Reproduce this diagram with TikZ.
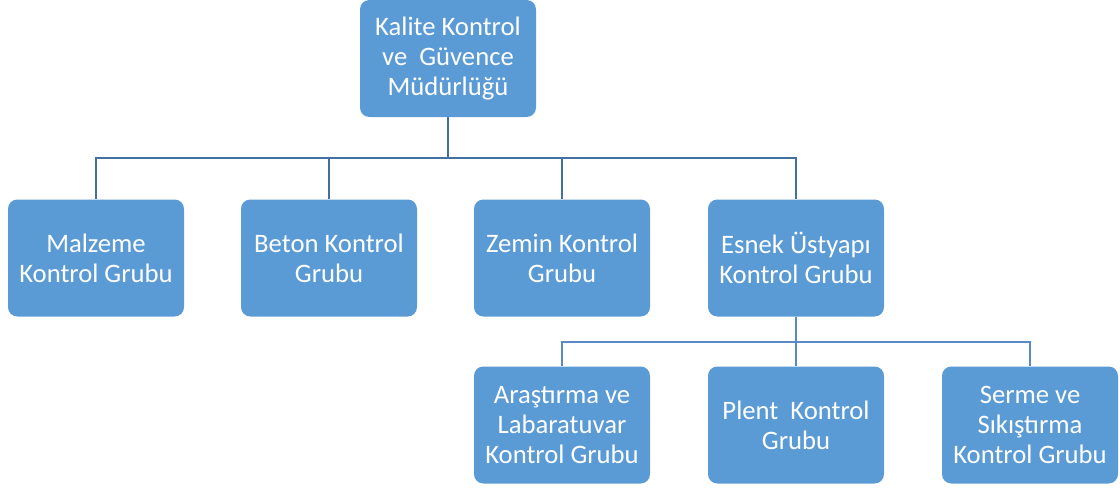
\documentclass[tikz,border=0pt]{standalone}
\usepackage{fontspec}
\setmainfont{Carlito}
\definecolor{boxblue}{HTML}{5B9BD5}
\definecolor{linkdark}{HTML}{41719C}
\definecolor{linklight}{HTML}{5A8AC6}
\tikzset{
  unit/.style={rectangle, rounded corners=7pt, fill=boxblue, text=white,
    minimum width=132pt, minimum height=87.75pt, align=center,
    font=\fontsize{20}{22.5}\selectfont},
  toplink/.style={draw=linkdark, line width=2.2pt},
  sublink/.style={draw=linklight, line width=2.2pt}
}
\begin{document}
\begin{tikzpicture}[x=0.75pt,y=-0.75pt]
    \useasboundingbox (0,0) rectangle (1120,490);
    \node (kk) at (448,58.5) [unit] {Kalite Kontrol\\ve\ \ Güvence\\Müdürlüğü};
    \node (mk) at (96,258) [unit] {Malzeme\\Kontrol Grubu};
    \node (bk) at (329,258) [unit] {Beton Kontrol\\Grubu};
    \node (zk) at (562,258) [unit] {Zemin Kontrol\\Grubu};
    \node (es) at (796,258) [unit] {Esnek Üstyapı\\Kontrol Grubu};
    \node (al) at (562,425) [unit] {Araştırma ve\\Labaratuvar\\Kontrol Grubu};
    \node (pk) at (796,425) [unit] {Plent\ \ Kontrol\\Grubu};
    \node (ss) at (1030,425) [unit] {Serme ve\\Sıkıştırma\\Kontrol Grubu};
    \coordinate (b1) at (448,158); \coordinate (b2) at (796,342);
    \draw[toplink] (kk.south) -- (b1);
    \draw[toplink] (b1) -| (mk.north); \draw[toplink] (b1) -| (bk.north);
    \draw[toplink] (b1) -| (zk.north); \draw[toplink] (b1) -| (es.north);
    \draw[sublink] (es.south) -- (b2);
    \draw[sublink] (b2) -| (al.north); \draw[sublink] (b2) -- (pk.north);
    \draw[sublink] (b2) -| (ss.north);
  \end{tikzpicture}
\end{document}
